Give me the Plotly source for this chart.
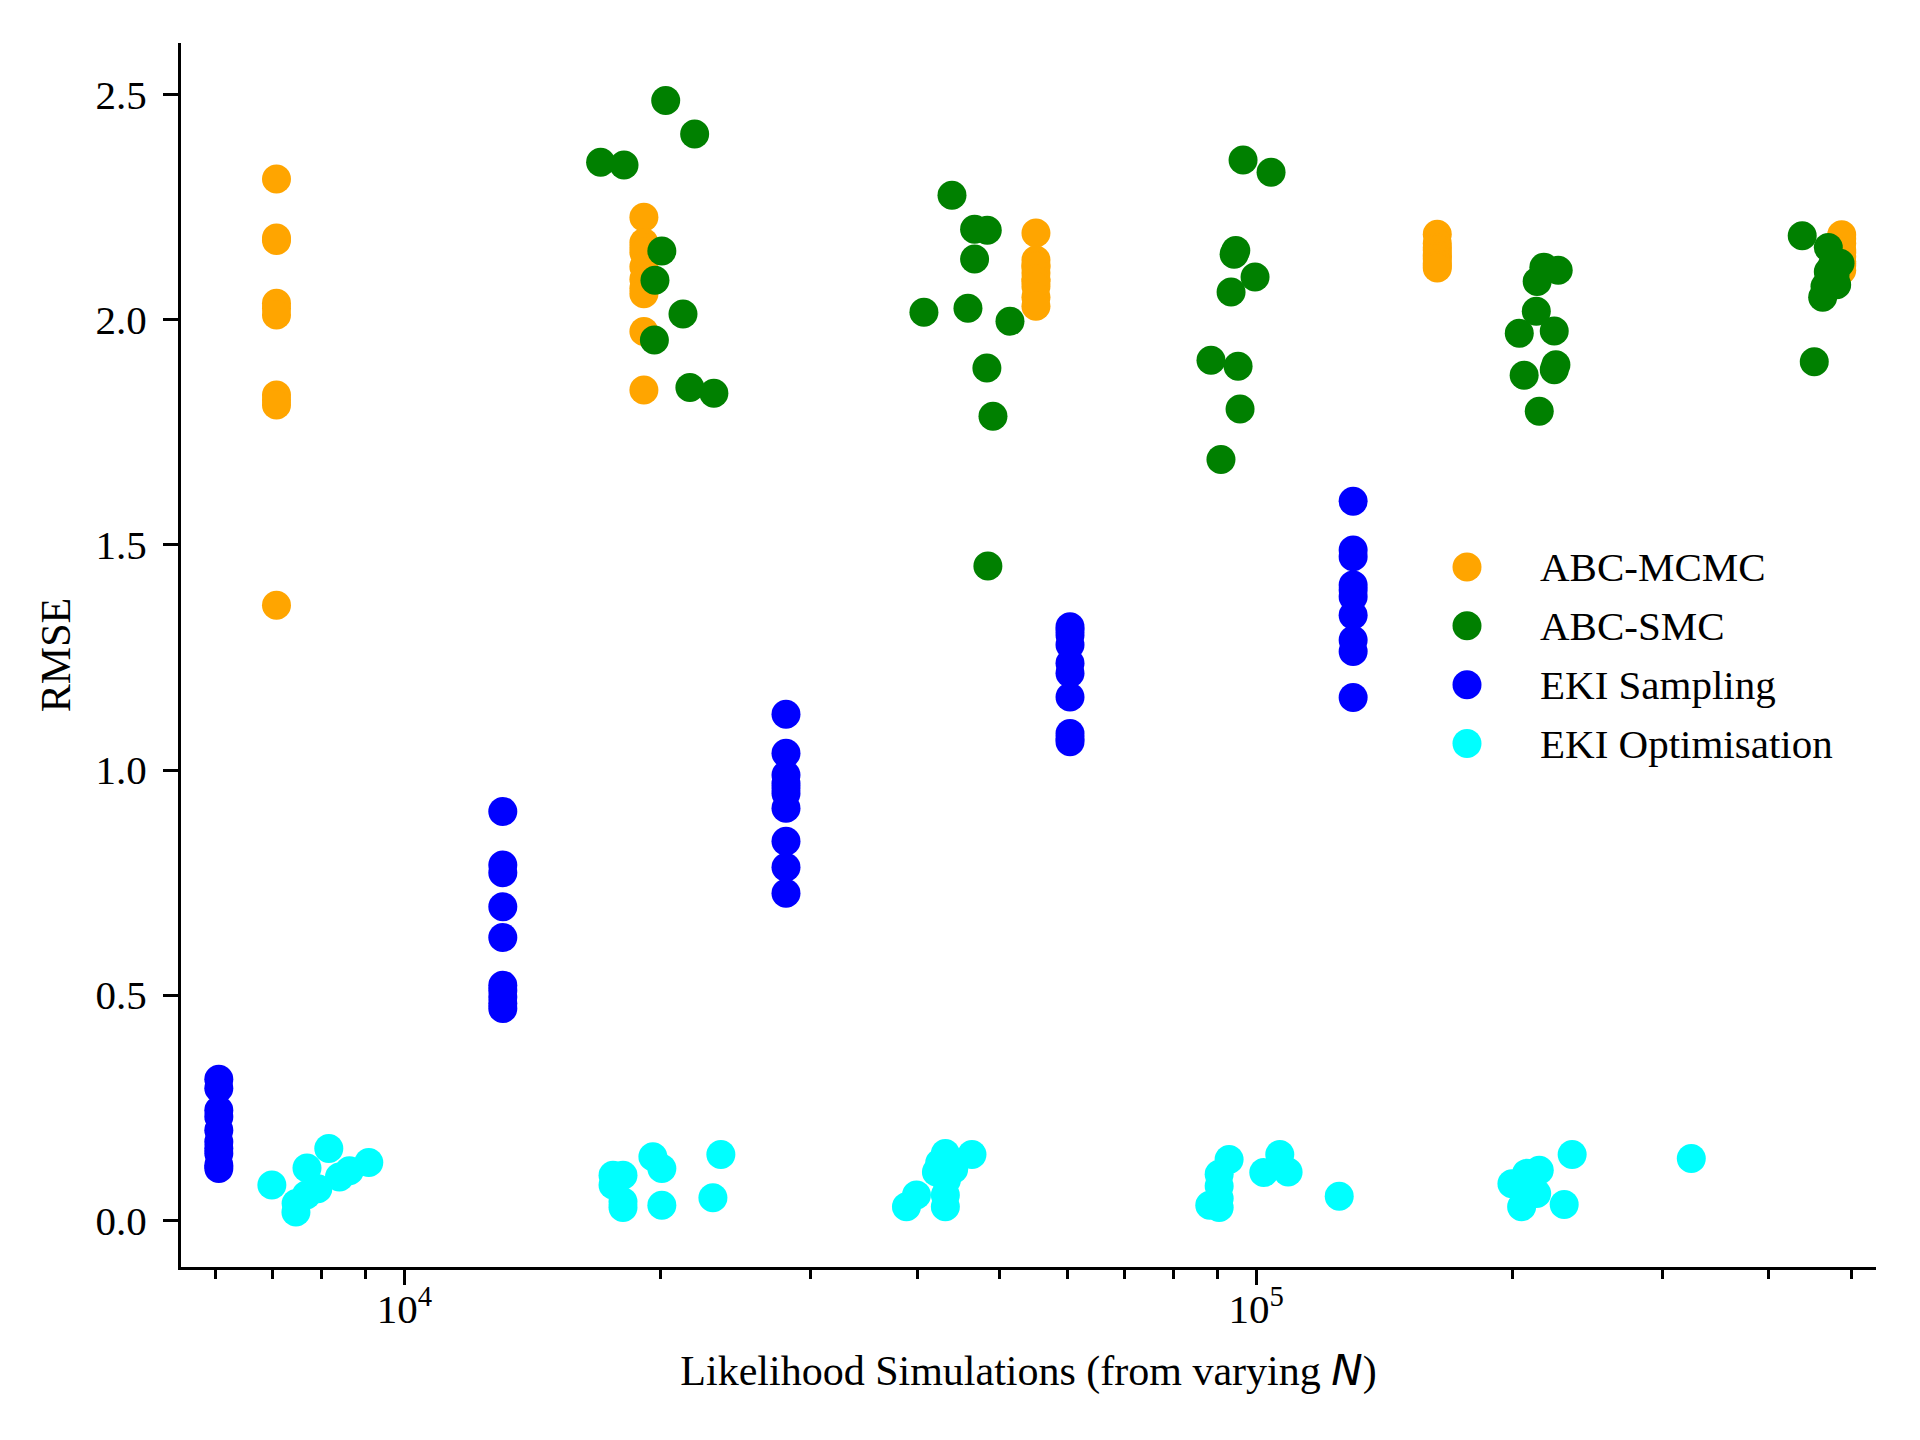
import plotly.graph_objects as go

# RMSE against number of likelihood simulations, 10 repeats per N

# ABC-MCMC and EKI sampling sit on one x value per N
mcmc_sims = [7078, 19110, 55150, 163200, 487000]
mcmc_rmse = [
    [2.313, 2.182, 2.176, 2.037, 2.025, 2.011, 1.833, 1.822, 1.811, 1.366],
    [2.228, 2.172, 2.160, 2.150, 2.118, 2.090, 2.070, 2.058, 1.974, 1.844],
    [2.193, 2.133, 2.120, 2.118, 2.104, 2.090, 2.085, 2.074, 2.050, 2.030],
    [2.190, 2.170, 2.160, 2.155, 2.145, 2.140, 2.135, 2.125, 2.120, 2.115],
    [2.189, 2.180, 2.170, 2.155, 2.150, 2.140, 2.130, 2.125, 2.120, 2.110],
]

eki_s_sims = [6056, 13050, 28060, 60470, 130000]
eki_s_rmse = [
    [0.313, 0.293, 0.244, 0.230, 0.200, 0.174, 0.160, 0.148, 0.122, 0.115],
    [0.908, 0.789, 0.772, 0.696, 0.628, 0.522, 0.510, 0.496, 0.482, 0.470],
    [1.124, 1.037, 0.989, 0.970, 0.960, 0.948, 0.915, 0.842, 0.784, 0.726],
    [1.318, 1.310, 1.300, 1.278, 1.237, 1.215, 1.162, 1.081, 1.070, 1.063],
    [1.597, 1.489, 1.474, 1.411, 1.400, 1.385, 1.344, 1.289, 1.263, 1.161],
]

# ABC-SMC and EKI optimisation use a different number of sims per run
smc_sims = [
    20270, 21920, 17000, 18110, 20060, 19690, 21240, 19660, 21640, 23090,
    43950, 46720, 48350, 46720, 40740, 45890, 51410, 48300, 49100, 48430,
    96540, 104130, 94660, 94230, 99720, 93460, 88520, 95250, 95760, 90940,
    217700, 226300, 213800, 213300, 203700, 223900, 224900, 223900, 206400, 215000,
    437700, 469700, 484800, 469700, 480400, 465500, 462600, 452200, 478300, 474500,
]
smc_rmse = [
    2.487, 2.413, 2.350, 2.344, 2.153, 2.088, 2.013, 1.955, 1.850, 1.837,
    2.277, 2.201, 2.199, 2.135, 2.017, 2.026, 1.997, 1.893, 1.786, 1.453,
    2.355, 2.328, 2.154, 2.146, 2.095, 2.062, 1.910, 1.897, 1.802, 1.690,
    2.117, 2.110, 2.085, 2.019, 1.970, 1.975, 1.900, 1.889, 1.877, 1.797,
    2.187, 2.161, 2.126, 2.107, 2.078, 2.074, 2.050, 1.907, 2.100, 2.120,
]

eki_o_sims = [
    6990, 8153, 7686, 7460, 7464, 7673, 7914, 8391, 8620, 9084,
    17580, 18060, 17580, 18060, 18060, 19580, 20060, 20060, 23530, 23030,
    38860, 39930, 42140, 43170, 46390, 44150, 43170, 43170, 43290, 42510,
    92960, 90500, 90500, 90500, 88230, 90500, 106610, 102100, 109040, 125200,
    199700, 207800, 215000, 213500, 205000, 205900, 230000, 235000, 324300, 209700,
]
eki_o_rmse = [
    0.078, 0.159, 0.116, 0.018, 0.037, 0.056, 0.070, 0.096, 0.110, 0.128,
    0.100, 0.100, 0.078, 0.041, 0.028, 0.141, 0.115, 0.033, 0.146, 0.050,
    0.030, 0.056, 0.107, 0.148, 0.146, 0.113, 0.056, 0.030, 0.089, 0.127,
    0.135, 0.102, 0.076, 0.048, 0.033, 0.028, 0.146, 0.106, 0.107, 0.053,
    0.081, 0.104, 0.111, 0.059, 0.030, 0.070, 0.035, 0.146, 0.137, 0.090,
]

labels = ["ABC-MCMC", "ABC-SMC", "EKI Sampling", "EKI Optimisation"]
colours = ["orange", "green", "blue", "cyan"]


def spread(sims, rmse):
    # one x per group -> repeat it for every run in that group
    xs, ys = [], []
    for s, runs in zip(sims, rmse):
        xs += [s] * len(runs)
        ys += runs
    return xs, ys


series = [
    spread(mcmc_sims, mcmc_rmse),
    (smc_sims, smc_rmse),
    spread(eki_s_sims, eki_s_rmse),
    (eki_o_sims, eki_o_rmse),
]

FONT = "Liberation Serif, Times New Roman, serif"
fig = go.Figure()

for (xs, ys), name, c in zip(series, labels, colours):
    fig.add_trace(go.Scatter(
        x=xs, y=ys, mode="markers", name=name,
        marker=dict(size=29, color=c, line=dict(width=0)),
        showlegend=False,
    ))

# matplotlib-style legend: big dots, no frame
for i, (name, c) in enumerate(zip(labels, colours)):
    ly = 0.5719 - i * 0.0481
    fig.add_shape(type="circle", xref="paper", yref="paper",
                  xsizemode="pixel", ysizemode="pixel",
                  xanchor=0.7587, yanchor=ly,
                  x0=-14.5, x1=14.5, y0=-14.5, y1=14.5,
                  fillcolor=c, line=dict(width=0))
    fig.add_annotation(x=0.8005, y=ly, xref="paper", yref="paper",
                       text=name, showarrow=False, xanchor="left",
                       yanchor="middle", font=dict(size=41, color="black"))

# page body has an 8px margin, so the figure is a bit smaller than the window
fig.update_layout(
    width=1904, height=1424,
    margin=dict(l=173, r=36, t=35, b=165),
    paper_bgcolor="white", plot_bgcolor="white",
    font=dict(family=FONT, size=41, color="black"),
    showlegend=False,
)

fig.update_xaxes(
    type="log", range=[3.7378, 5.7278],
    showline=True, linewidth=3.3, linecolor="black", mirror=False,
    showgrid=False, zeroline=False,
    ticks="outside", ticklen=15, tickwidth=3.3, tickcolor="black",
    tickvals=[1e4, 1e5], ticktext=["10<sup>4</sup>", "10<sup>5</sup>"],
    ticklabelstandoff=-11,
    minor=dict(ticks="outside", ticklen=8.5, tickwidth=2.5, tickcolor="black",
               tickvals=[6e3, 7e3, 8e3, 9e3, 2e4, 3e4, 4e4, 5e4, 6e4, 7e4, 8e4, 9e4,
                         2e5, 3e5, 4e5, 5e5],
               showgrid=False),
    title=dict(text="Likelihood Simulations (from varying "
                    "<i><span style='font-family:DejaVu Sans'>N</span></i>)",
               font=dict(size=42), standoff=25),
)

fig.update_yaxes(
    range=[-0.104, 2.615],
    showline=True, linewidth=3.3, linecolor="black", mirror=False,
    showgrid=False, zeroline=False,
    ticks="outside", ticklen=15, tickwidth=3.3, tickcolor="black",
    tickvals=[0, 0.5, 1.0, 1.5, 2.0, 2.5], tickformat=".1f",
    ticklabelstandoff=8,
    title=dict(text="RMSE", font=dict(size=42), standoff=12),
)

fig.write_html("out.html")
